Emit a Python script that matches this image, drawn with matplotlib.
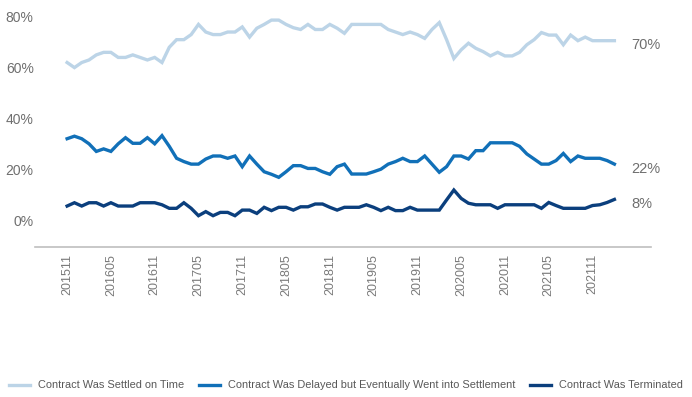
import matplotlib
matplotlib.use("Agg")
import matplotlib.pyplot as plt
import numpy as np

# monthly data, 201511 .. 202202
months = [f"{y}{m:02d}" for y in range(2015, 2023) for m in range(1, 13)]
months = months[months.index("201511"):months.index("202202") + 1]

settled = [62, 60, 62, 63, 65, 66, 66, 64, 64, 65, 64, 63, 64, 62, 68, 71, 71, 73, 77,
           74, 73, 73, 74, 74, 76, 72, 75.5, 77, 78.7, 78.7, 77, 75.7, 75, 77, 75, 75,
           77, 75.5, 73.5, 77, 77, 77, 77, 77, 75, 74, 73, 74, 73, 71.5, 75, 77.7, 71,
           63.6, 67, 69.6, 67.6, 66.3, 64.6, 66, 64.6, 64.6, 66, 69, 71, 73.8, 72.8, 72.8,
           69, 72.8, 70.6, 72, 70.6, 70.6, 70.6, 70.6]
delayed = [32, 33, 32, 30, 27, 28, 27, 30, 32.4, 30.2, 30.2, 32.4, 30, 33.2, 29, 24.3,
           23, 22, 22, 24, 25.2, 25.2, 24.3, 25.2, 21, 25.2, 22, 19, 18, 16.8, 19, 21.4,
           21.4, 20.3, 20.3, 19, 18, 21, 22, 18.1, 18.1, 18.1, 19, 20, 22, 23, 24.3, 23,
           23, 25.2, 22, 18.8, 21, 25.2, 25.2, 24, 27.3, 27.3, 30.4, 30.4, 30.4, 30.4, 29,
           26, 24, 22, 22, 23.4, 26.2, 23, 25.2, 24.3, 24.3, 24.3, 23.4, 22]
terminated = [5.5, 6.8, 5.5, 6.8, 6.8, 5.5, 6.8, 5.5, 5.5, 5.5, 6.8, 6.8, 6.8, 6, 4.6,
              4.6, 6.8, 4.6, 1.7, 3.3, 1.7, 3, 3, 1.7, 3.9, 3.9, 2.6, 5, 3.7, 5, 5, 3.9,
              5.2, 5.2, 6.3, 6.3, 5, 3.9, 5, 5, 5, 6, 5, 3.7, 5, 3.7, 3.7, 5, 3.9, 3.9,
              3.9, 3.9, 7.9, 11.8, 8.5, 6.6, 6, 6, 6, 4.6, 6, 6, 6, 6, 6, 4.6, 6.9, 5.7,
              4.6, 4.6, 4.6, 4.6, 5.7, 6, 6.9, 8.1]

series_names = ["Contract Was Settled on Time",
                "Contract Was Delayed but Eventually Went into Settlement",
                "Contract Was Terminated"]
end_labels = ["70%", "22%", "8%"]
colors = ["#bcd4e7", "#1170b8", "#0b3f7d"]

font = ["Liberation Sans", "DejaVu Sans"]
gray = "#6f6f6f"

fig = plt.figure(figsize=(6.92, 3.97), dpi=100)
ax = fig.add_axes([0.0506, 0.378, 0.890, 0.5925])

x = np.arange(len(months))
for vals, name, c, lab in zip([settled, delayed, terminated], series_names, colors, end_labels):
    ax.plot(x, vals, color=c, lw=2.4, label=name, solid_joinstyle="miter")
    # end labels sit a little below the last point
    ax.text(len(months) + 1.3, vals[-1] - 1.8, lab, color=gray, fontsize=10.5,
            family=font, va="center", ha="left")

ax.set_xlim(-4.4, 80)
ax.set_ylim(-10.6, 82)

ax.set_yticks([0, 20, 40, 60, 80])
ax.set_yticklabels([f"{v}%" for v in [0, 20, 40, 60, 80]], family=font,
                   fontsize=10, color=gray)
ax.tick_params(axis="y", length=0, pad=1)

ax.set_xticks(x[::6])
ax.set_xticklabels(months[::6], rotation=90, fontsize=9, color="#7a7a7a",
                   family=font)
ax.tick_params(axis="x", length=0, pad=5)

for s in ["top", "right", "left"]:
    ax.spines[s].set_visible(False)
ax.spines["bottom"].set_color("#bfbfbf")
ax.spines["bottom"].set_linewidth(1.2)

leg = fig.legend(loc="lower center", bbox_to_anchor=(0.5, 0.0), ncol=3,
                 frameon=False, handlelength=1.9, handletextpad=0.7,
                 columnspacing=1.4, borderaxespad=0.3, borderpad=0.3,
                 prop={"family": font, "size": 7.9})
for t in leg.get_texts():
    t.set_color("#595959")

fig.savefig("out.png", dpi=100)
